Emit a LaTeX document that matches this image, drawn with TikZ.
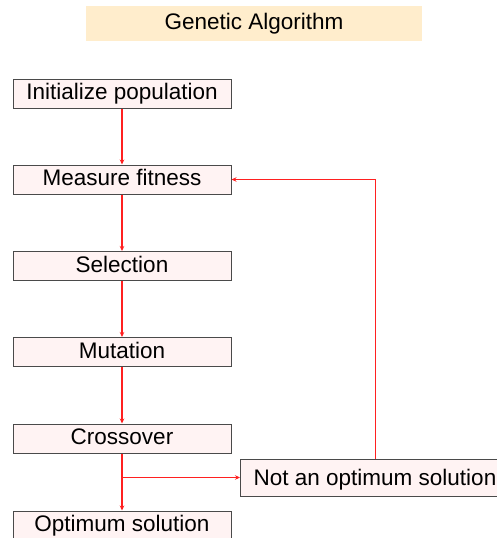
\documentclass[tikz,border=0pt]{standalone}
\usepackage{fontspec}
\setmainfont{Liberation Sans}
\usetikzlibrary{arrows.meta}
\definecolor{titlefill}{HTML}{FFEDCC}
\definecolor{boxfill}{HTML}{FFF3F3}
\definecolor{boxline}{HTML}{4A4A4A}
\definecolor{flowred}{HTML}{FF2020}
\tikzset{
  label font/.style={font=\fontsize{22.5}{22.5}\selectfont, text height=16pt, text depth=4pt},
  stepbox/.style={draw=boxline, line width=1pt, fill=boxfill, minimum width=218pt,
    minimum height=29pt, inner sep=0pt, label font},
  flow/.style={draw=flowred, line width=1.5pt, -{Stealth[length=5pt,width=4.5pt]}},
}
\begin{document}
\begin{tikzpicture}[x=1pt,y=-1pt]
  \useasboundingbox (0,0) rectangle (497,538);
  \clip (0,0) rectangle (497,538);
  \node[fill=titlefill, minimum width=336pt, minimum height=35pt, inner sep=0pt,
        label font] (title) at (254,23.5) {Genetic Algorithm};
  \node[stepbox] (init) at (122,93.5) {Initialize population};
  \node[stepbox] (fit) at (122,179.5) {Measure fitness};
  \node[stepbox] (sel) at (122,266) {Selection};
  \node[stepbox] (mut) at (122,352) {Mutation};
  \node[stepbox] (cross) at (122,438.5) {Crossover};
  \node[stepbox] (opt) at (122,525.5) {Optimum solution};
  \node[stepbox, minimum width=269pt, minimum height=37pt, text height=17pt, text depth=2pt,
        anchor=west] (notopt) at (240,477.5) {Not an optimum solution};
  \coordinate (split) at (122,477.5);
  \coordinate (corner) at (375.5,179.5);
  \coordinate (loopstart) at (375.5,459);
  \draw[flow] (init) -- (fit);
  \draw[flow] (fit) -- (sel);
  \draw[flow] (sel) -- (mut);
  \draw[flow] (mut) -- (cross);
  \draw[flow] (cross) -- (opt);
  \draw[flow] (split) -- (notopt.west);
  \draw[flow] (loopstart) -- (corner) -- (fit.east);
\end{tikzpicture}
\end{document}
